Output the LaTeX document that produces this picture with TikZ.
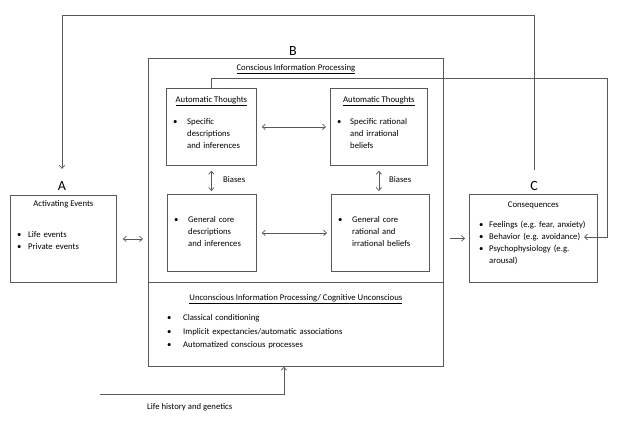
\documentclass[tikz,border=0pt]{standalone}
\usepackage{fontspec}
\setmainfont{Carlito}
\usetikzlibrary{positioning,arrows.meta}

\tikzstyle{box} = [rectangle, draw=black!65, line width=0.8pt, inner sep=0pt, anchor=north west]
\tikzstyle{head} = [anchor=base, inner sep=0pt]
\tikzstyle{list} = [anchor=north west, inner sep=0pt, align=left]
\tikzstyle{letter} = [anchor=base, inner sep=0pt, font=\fontsize{14}{16}\selectfont]
\tikzstyle{arrow} = [draw=black!65, line width=0.7pt, ->, >={Straight Barb[length=3pt,width=5.5pt]}]
\tikzstyle{biarrow} = [arrow, <->]

\newcommand{\bitem}[2]{\par\noindent\makebox[#1][l]{\textbullet}\begin{tabular}[t]{@{}l@{}}#2\end{tabular}}
\frenchspacing

\begin{document}
\begin{tikzpicture}[x=1pt, y=-1pt, font=\fontsize{8.7}{12}\selectfont]
    \useasboundingbox (0,0) rectangle (619,423);

    \node (events) [box, minimum width=106pt, minimum height=87pt] at (10,195) {};
    \node (conscious) [box, minimum width=295pt, minimum height=224pt] at (148,58) {};
    \node (unconscious) [box, minimum width=295pt, minimum height=84pt] at (148,282) {};
    \node (tl) [box, minimum width=90pt, minimum height=77pt] at (166,88) {};
    \node (tr) [box, minimum width=97pt, minimum height=77pt] at (330,88) {};
    \node (bl) [box, minimum width=89pt, minimum height=77pt] at (167,194) {};
    \node (br) [box, minimum width=98pt, minimum height=77pt] at (331,194) {};
    \node (cons) [box, minimum width=128pt, minimum height=88pt] at (469,194) {};

    \node (lblA) [letter] at (62,190) {A};
    \node (lblB) [letter] at (293,55) {B};
    \node (lblC) [letter] at (534,190) {C};

    \node (eventshead) [head] at ([yshift=-11pt]events.north) {Activating Events};
    \node (conshead) [head] at ([yshift=-12pt]conscious.north) {\underline{Conscious Information Processing}};
    \node (tlhead) [head] at ([yshift=-14pt]tl.north) {\underline{Automatic Thoughts}};
    \node (trhead) [head] at ([yshift=-14pt]tr.north) {\underline{Automatic Thoughts}};
    \node (unhead) [head] at ([yshift=-18pt]unconscious.north) {\underline{Unconscious Information Processing/ Cognitive Unconscious}};
    \node (conshead) [head] at ([yshift=-13pt]cons.north) {Consequences};

    \node (eventslist) [list, text width=95pt] at ([xshift=7pt,yshift=-30pt]events.north west)
        {\bitem{11pt}{Life events}\bitem{11pt}{Private events}};
    \node (tllist) [list, text width=82pt] at ([xshift=7pt,yshift=-24pt]tl.north west)
        {\bitem{14pt}{Specific\\ descriptions\\ and inferences}};
    \node (trlist) [list, text width=88pt] at ([xshift=7pt,yshift=-24pt]tr.north west)
        {\bitem{13pt}{Specific rational\\ and irrational\\ beliefs}};
    \node (bllist) [list, text width=82pt] at ([xshift=7pt,yshift=-16pt]bl.north west)
        {\bitem{14pt}{General core\\ descriptions\\ and inferences}};
    \node (brlist) [list, text width=90pt] at ([xshift=7pt,yshift=-16pt]br.north west)
        {\bitem{14pt}{General core\\ rational and\\ irrational beliefs}};
    \node (unlist) [list, text width=260pt, font=\fontsize{8.7}{13.5}\selectfont] at ([xshift=19pt,yshift=-25pt]unconscious.north west)
        {\bitem{16pt}{Classical conditioning}\bitem{16pt}{Implicit expectancies/automatic associations}\bitem{16pt}{Automatized conscious processes}};
    \node (conslist) [list, text width=115pt] at ([xshift=10pt,yshift=-21pt]cons.north west)
        {\bitem{10pt}{Feelings (e.g. fear, anxiety)}\bitem{10pt}{Behavior (e.g. avoidance)}\bitem{10pt}{Psychophysiology (e.g.\\ arousal)}};

    \node (biasL) [anchor=west, inner sep=0pt] at (223,180) {Biases};
    \node (biasR) [anchor=west, inner sep=0pt] at (389,180) {Biases};
    \node (lifetext) [anchor=west, inner sep=0pt] at (147,407) {Life history and genetics};

    \coordinate (top) at (0,15);
    \coordinate (fbtop) at (607,78);
    \coordinate (behav) at (584,237);
    \coordinate (life) at (100,394);

    \draw [biarrow, shorten <=5pt, shorten >=4pt] (tl.east) -- (tr.west);
    \draw [biarrow, shorten <=5pt, shorten >=4pt] (bl.east) -- (br.west);
    \draw [biarrow, shorten <=5pt, shorten >=3pt] (tl.south) -- (tl.south |- bl.north);
    \draw [biarrow, shorten <=5pt, shorten >=3pt] (tr.south) -- (tr.south |- br.north);
    \draw [biarrow, shorten <=6pt, shorten >=5pt] (events.east) -- (events.east -| conscious.west);
    \draw [arrow, shorten <=6pt, shorten >=4pt] (cons.west -| conscious.east) -- (cons.west);
    \draw [arrow, shorten <=11pt, shorten >=12pt] (lblC.north) -- (lblC.north |- top) -| (lblA.north);
    \draw [arrow] (tl.north) |- (fbtop) |- (behav);
    \draw [arrow] (life) -| ([xshift=-12pt]unconscious.south);

\end{tikzpicture}
\end{document}
